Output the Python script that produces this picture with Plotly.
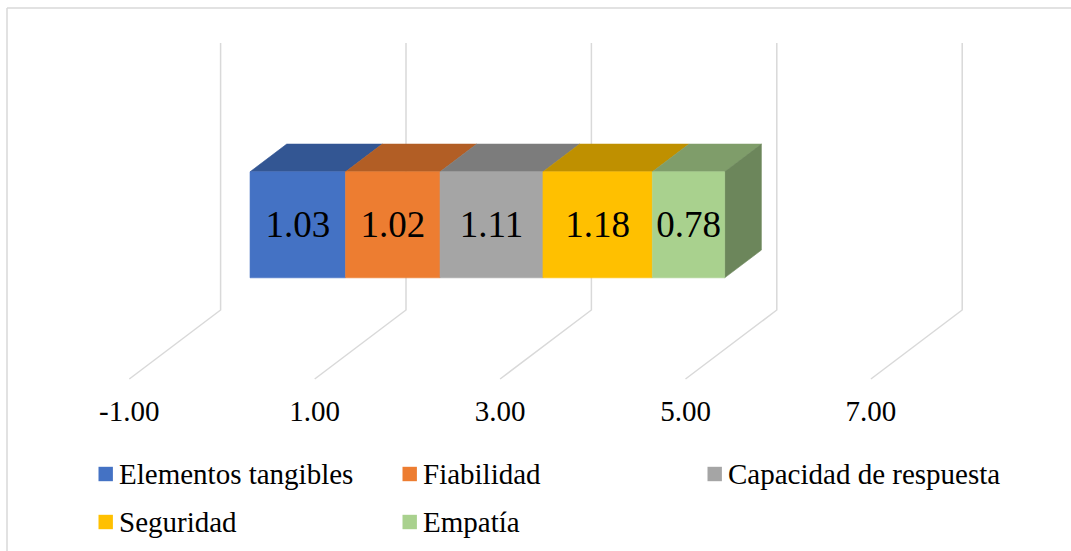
import plotly.graph_objects as go

# Dimensions of the SERVQUAL gap (one stacked bar)
categories = ["Elementos tangibles", "Fiabilidad", "Capacidad de respuesta", "Seguridad", "Empatía"]
values = [1.03, 1.02, 1.11, 1.18, 0.78]
colors = ["#4472C4", "#ED7D31", "#A5A5A5", "#FFC000", "#A9D18E"]
tick_values = [-1, 1, 3, 5, 7]
tick_labels = ["-1.00", "1.00", "3.00", "5.00", "7.00"]

W, H = 1071, 551
FONT = "Liberation Serif"
GRID = "#D9D9D9"

# horizontal scale of the value axis on the back wall
PX_PER_UNIT = 92.7
X0_PX = 313.3                       # pixel position of value 0 on the back wall
x_min = -X0_PX / PX_PER_UNIT
x_max = x_min + W / PX_PER_UNIT

# oblique projection: depth z goes 0 (back wall) -> 1 (front edge of floor)
DEPTH_DX = -91.3 / PX_PER_UNIT      # value units per full depth
DEPTH_DY = 69.0                     # screen px per full depth
WALL_TOP, FLOOR_Y = 43.0, 310.0
BAR_Z_BACK, BAR_Z_FRONT = 0.291, 0.693
BAR_TOP, BAR_BOTTOM = 124.0, 230.0   # bar top/bottom measured on the back wall


def proj(v, z, y):
    return v + z * DEPTH_DX, y + z * DEPTH_DY


def shade(hex_color, f):
    h = hex_color.lstrip("#")
    r, g, b = (int(h[i:i + 2], 16) for i in (0, 2, 4))
    return "rgb({},{},{})".format(round(r * f), round(g * f), round(b * f))


fig = go.Figure()

# gridlines: vertical on the back wall, then diagonal across the floor
for t in tick_values:
    pts = [proj(t, 0, WALL_TOP), proj(t, 0, FLOOR_Y), proj(t, 1, FLOOR_Y)]
    fig.add_trace(go.Scatter(
        x=[p[0] for p in pts], y=[p[1] for p in pts], mode="lines",
        line=dict(color=GRID, width=1.5), hoverinfo="skip", showlegend=False))


def face(pts, color):
    xs = [p[0] for p in pts] + [pts[0][0]]
    ys = [p[1] for p in pts] + [pts[0][1]]
    fig.add_trace(go.Scatter(
        x=xs, y=ys, mode="lines", fill="toself", fillcolor=color,
        line=dict(color=color, width=0.6), hoverinfo="skip", showlegend=False))


# stacked segments
starts = []
acc = 0.0
for v in values:
    starts.append(acc)
    acc += v

for i, (s, v, c) in enumerate(zip(starts, values, colors)):
    e = s + v
    # top face
    face([proj(s, BAR_Z_FRONT, BAR_TOP), proj(e, BAR_Z_FRONT, BAR_TOP),
          proj(e, BAR_Z_BACK, BAR_TOP), proj(s, BAR_Z_BACK, BAR_TOP)], shade(c, 0.75))
    # right side face of the last segment
    if i == len(values) - 1:
        face([proj(e, BAR_Z_FRONT, BAR_TOP), proj(e, BAR_Z_BACK, BAR_TOP),
              proj(e, BAR_Z_BACK, BAR_BOTTOM), proj(e, BAR_Z_FRONT, BAR_BOTTOM)], shade(c, 0.64))
    # front face
    face([proj(s, BAR_Z_FRONT, BAR_TOP), proj(e, BAR_Z_FRONT, BAR_TOP),
          proj(e, BAR_Z_FRONT, BAR_BOTTOM), proj(s, BAR_Z_FRONT, BAR_BOTTOM)], c)

# value labels centred on the front faces
lx, ly = [], []
for s, v in zip(starts, values):
    px, py = proj(s + v / 2, BAR_Z_FRONT, (BAR_TOP + BAR_BOTTOM) / 2)
    lx.append(px)
    ly.append(py + 3)
fig.add_trace(go.Scatter(
    x=lx, y=ly, mode="text", text=["{:.2f}".format(v) for v in values],
    textposition="middle center", textfont=dict(family=FONT, size=37, color="#000000"),
    hoverinfo="skip", showlegend=False))

# value-axis tick labels at the front edge of the floor
tx = [proj(t, 1, FLOOR_Y)[0] for t in tick_values]
fig.add_trace(go.Scatter(
    x=tx, y=[414] * len(tick_values), mode="text", text=tick_labels,
    textposition="middle center", textfont=dict(family=FONT, size=29, color="#000000"),
    hoverinfo="skip", showlegend=False))

# legend: three columns, two rows
legend_cols = [98.5, 402.5, 707.5]
legend_rows = [474.0, 522.0]
SQ = 14.4
shapes = []
annotations = []
for i, (name, c) in enumerate(zip(categories, colors)):
    lx0 = legend_cols[i % 3]
    cy = legend_rows[i // 3]
    shapes.append(dict(type="rect", xref="paper", yref="paper",
                       x0=lx0 / W, x1=(lx0 + SQ) / W,
                       y0=1 - (cy + SQ / 2) / H, y1=1 - (cy - SQ / 2) / H,
                       fillcolor=c, line=dict(width=0)))
    annotations.append(dict(xref="paper", yref="paper", x=(lx0 + SQ + 4) / W, y=1 - cy / H,
                            xanchor="left", yanchor="middle", showarrow=False,
                            text=name, font=dict(family=FONT, size=29, color="#000000")))

# chart-area border (top and left edges visible)
shapes.append(dict(type="line", xref="paper", yref="paper", x0=7 / W, x1=1.01,
                   y0=1 - 8 / H, y1=1 - 8 / H, line=dict(color=GRID, width=1.5)))
shapes.append(dict(type="line", xref="paper", yref="paper", x0=7 / W, x1=7 / W,
                   y0=1 - 8 / H, y1=-0.01, line=dict(color=GRID, width=1.5)))

fig.update_layout(
    width=W, height=H, margin=dict(l=0, r=0, t=0, b=0),
    paper_bgcolor="white", plot_bgcolor="white",
    xaxis=dict(range=[x_min, x_max], visible=False, fixedrange=True),
    yaxis=dict(range=[H, 0], visible=False, fixedrange=True),
    shapes=shapes, annotations=annotations, showlegend=False,
)

fig.write_html("out.html")
